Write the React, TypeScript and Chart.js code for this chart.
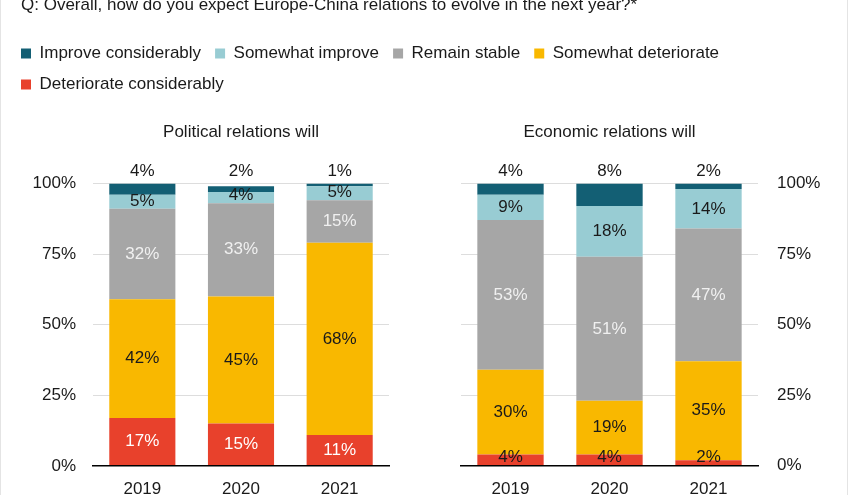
import React, { useEffect, useRef } from 'react';
import { Chart, registerables } from 'chart.js';

Chart.register(...registerables);

const QUESTION = 'Q: Overall, how do you expect Europe-China relations to evolve in the next year?*';
const YEARS = ['2019', '2020', '2021'];
const SERIES = ['Improve considerably', 'Somewhat improve', 'Remain stable', 'Somewhat deteriorate', 'Deteriorate considerably'];
const PANEL_TITLES = ['Political relations will', 'Economic relations will'];
const Y_TICKS = [0, 25, 50, 75, 100];

const POL_IMPROVE_CONSIDERABLY = [4, 2, 1];
const POL_SOMEWHAT_IMPROVE = [5, 4, 5];
const POL_REMAIN_STABLE = [32, 33, 15];
const POL_SOMEWHAT_DETERIORATE = [42, 45, 68];
const POL_DETERIORATE_CONSIDERABLY = [17, 15, 11];

const ECO_IMPROVE_CONSIDERABLY = [4, 8, 2];
const ECO_SOMEWHAT_IMPROVE = [9, 18, 14];
const ECO_REMAIN_STABLE = [53, 51, 47];
const ECO_SOMEWHAT_DETERIORATE = [30, 19, 35];
const ECO_DETERIORATE_CONSIDERABLY = [4, 4, 2];

const COLORS = ['#135f74', '#98ccd3', '#a6a6a6', '#f9b800', '#e8412c'];

const FONT = "'Liberation Sans', Arial, sans-serif";
const FS = 17;
const TEXT = '#1a1a1a';

const W = 850;
const H = 495;
const LPAD = 7;
const TOPPAD = 31;
const LEFT_AREA_L = 93;
const LEFT_AREA_R = 389;
const RIGHT_AREA_L = 461;
const RIGHT_AREA_R = 758;
const XAXIS_H = 29;

// label colours by series index (Improve considerably .. Deteriorate considerably)
const POL_LABEL_COLORS = [TEXT, TEXT, '#f0f0f0', TEXT, '#ffffff'];
const ECO_LABEL_COLORS = [TEXT, TEXT, '#f0f0f0', TEXT, TEXT];

function buildDatasets(series: number[][]) {
  // series given in legend order (improve first); stack from bottom (deteriorate) upwards
  const order = [4, 3, 2, 1, 0];
  return order.map((si) => ({
    label: SERIES[si],
    data: series[si],
    backgroundColor: COLORS[si],
    borderWidth: 0,
    xAxisID: 'x',
    yAxisID: 'y',
    categoryPercentage: 1,
    barPercentage: 0.67,
  }));
}

function labelPlugin(labelColors: string[]) {
  return {
    id: 'segLabels',
    afterDatasetsDraw(chart: any) {
      const ctx = chart.ctx;
      ctx.save();
      ctx.font = `${FS}px ${FONT}`;
      ctx.textAlign = 'center';
      ctx.textBaseline = 'middle';
      const n = chart.data.datasets.length;
      chart.data.datasets.forEach((ds: any, i: number) => {
        const si = n - 1 - i;
        const meta = chart.getDatasetMeta(i);
        meta.data.forEach((el: any, j: number) => {
          const v = ds.data[j];
          let y: number;
          if (si === 0) {
            y = chart.chartArea.top - 12;
          } else {
            y = Math.min((el.y + el.base) / 2, el.base - 8);
          }
          ctx.fillStyle = labelColors[si];
          ctx.fillText(v + '%', el.x, y);
        });
      });
      ctx.restore();
    },
  };
}

const questionPlugin = {
  id: 'question',
  afterDraw(chart: any) {
    const ctx = chart.ctx;
    ctx.save();
    ctx.font = `${FS}px ${FONT}`;
    ctx.fillStyle = TEXT;
    ctx.textAlign = 'left';
    ctx.textBaseline = 'alphabetic';
    ctx.fillText(QUESTION, 21, 10);
    ctx.restore();
  },
};

function yAxis(position: 'left' | 'right', width: number, padding: number) {
  return {
    type: 'linear',
    position,
    stacked: true,
    min: 0,
    max: 100,
    afterBuildTicks: (s: any) => {
      s.ticks = Y_TICKS.map((v) => ({ value: v }));
    },
    ticks: {
      color: TEXT,
      font: { family: FONT, size: FS },
      padding,
      callback: (v: any) => v + '%',
    },
    grid: {
      color: (c: any) => (c.tick && c.tick.value === 0 ? 'rgba(0,0,0,0)' : '#dddddd'),
      drawTicks: false,
      lineWidth: 1,
    },
    border: { display: false },
    afterFit: (s: any) => {
      s.width = width;
    },
  };
}

function padAxis(position: 'left' | 'right', width: number) {
  return {
    type: 'linear',
    position,
    display: true,
    grid: { display: false, drawTicks: false },
    ticks: { display: false },
    border: { display: false },
    afterFit: (s: any) => {
      s.width = width;
    },
  };
}

const xAxis = {
  type: 'category',
  stacked: true,
  grid: { display: false, drawTicks: false },
  border: { display: true, color: '#000000', width: 1.5, z: 1 },
  ticks: { color: TEXT, font: { family: FONT, size: FS }, padding: 13 },
  afterFit: (s: any) => {
    s.height = XAXIS_H;
  },
};

function subtitle(text: string) {
  return {
    display: true,
    text,
    position: 'top',
    fullSize: false,
    weight: 500,
    color: TEXT,
    font: { family: FONT, size: FS, weight: 'normal' },
    padding: { top: 19, bottom: 41 },
  };
}

export default function App() {
  const refA = useRef<HTMLCanvasElement>(null);
  const refB = useRef<HTMLCanvasElement>(null);

  useEffect(() => {
    if (!refA.current || !refB.current) return;
    Chart.defaults.font.family = FONT;
    Chart.defaults.font.size = FS;
    Chart.defaults.color = TEXT;

    const polSeries = [
      POL_IMPROVE_CONSIDERABLY,
      POL_SOMEWHAT_IMPROVE,
      POL_REMAIN_STABLE,
      POL_SOMEWHAT_DETERIORATE,
      POL_DETERIORATE_CONSIDERABLY,
    ];
    const ecoSeries = [
      ECO_IMPROVE_CONSIDERABLY,
      ECO_SOMEWHAT_IMPROVE,
      ECO_REMAIN_STABLE,
      ECO_SOMEWHAT_DETERIORATE,
      ECO_DETERIORATE_CONSIDERABLY,
    ];

    const chartA = new Chart(refA.current, {
      type: 'bar',
      data: { labels: YEARS, datasets: buildDatasets(polSeries) as any },
      options: {
        responsive: false,
        animation: false,
        layout: { padding: { left: LPAD, top: TOPPAD, right: 0, bottom: 0 } },
        plugins: {
          legend: {
            display: true,
            position: 'top',
            align: 'start',
            reverse: true,
            labels: {
              boxWidth: 10,
              boxHeight: 10,
              padding: 14,
              color: TEXT,
              font: { family: FONT, size: FS },
            },
          },
          title: { display: false },
          subtitle: subtitle(PANEL_TITLES[0]) as any,
          tooltip: { enabled: false },
        },
        scales: {
          x: xAxis as any,
          y: yAxis('left', LEFT_AREA_L - LPAD, 17) as any,
          yPadR: padAxis('right', W - LEFT_AREA_R) as any,
        },
      },
      plugins: [labelPlugin(POL_LABEL_COLORS), questionPlugin],
    });

    const topB = chartA.legend ? (chartA.legend as any).bottom : 104;

    const chartB = new Chart(refB.current, {
      type: 'bar',
      data: { labels: YEARS, datasets: buildDatasets(ecoSeries) as any },
      options: {
        responsive: false,
        animation: false,
        layout: { padding: { left: 0, top: topB, right: 0, bottom: 0 } },
        plugins: {
          legend: { display: false },
          title: { display: false },
          subtitle: subtitle(PANEL_TITLES[1]) as any,
          tooltip: { enabled: false },
        },
        scales: {
          x: xAxis as any,
          yPadL: padAxis('left', RIGHT_AREA_L) as any,
          y: yAxis('right', W - RIGHT_AREA_R, 19) as any,
        },
      },
      plugins: [labelPlugin(ECO_LABEL_COLORS)],
    });

    return () => {
      chartA.destroy();
      chartB.destroy();
    };
  }, []);

  return (
    <div style={{ position: 'fixed', left: 0, top: 0, width: W, height: H, background: '#ffffff', overflow: 'hidden' }}>
      <canvas ref={refA} width={W} height={H} style={{ position: 'absolute', left: 0, top: 0, width: W, height: H }} />
      <canvas ref={refB} width={W} height={H} style={{ position: 'absolute', left: 0, top: 0, width: W, height: H }} />
      <div style={{ position: 'absolute', left: 0, top: 0, width: 1, height: H, background: '#e4e4e4' }} />
      <div style={{ position: 'absolute', right: 2, top: 0, width: 1, height: H, background: '#e4e4e4' }} />
    </div>
  );
}
